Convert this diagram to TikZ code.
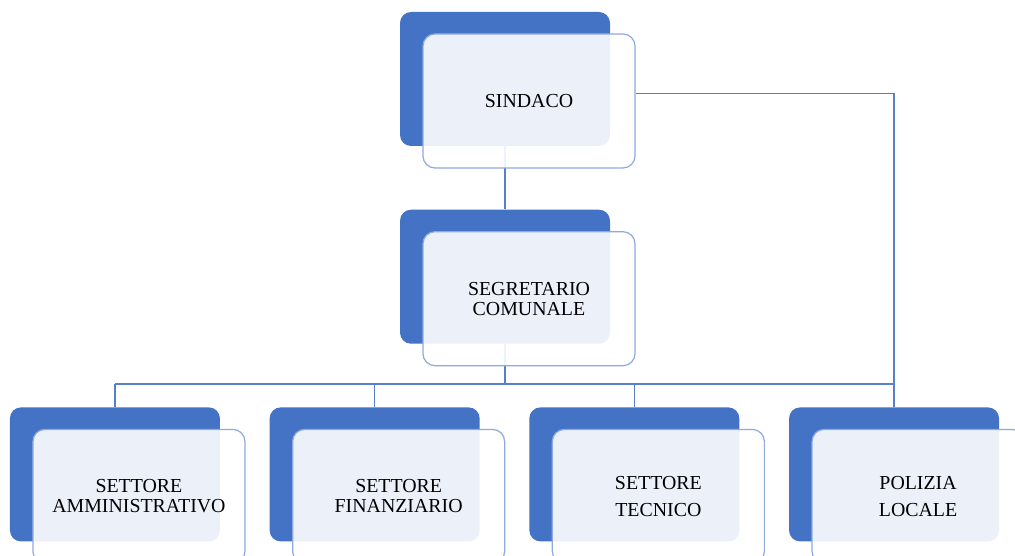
\documentclass[tikz,border=0pt]{standalone}
\usepackage{fontspec}
\setmainfont{Liberation Serif}
\usetikzlibrary{positioning,backgrounds}
\definecolor{boxblue}{HTML}{4472C4}
\definecolor{edgeblue}{HTML}{8FAADC}

\begin{document}
\begin{tikzpicture}[
node distance = 12.6mm and 9.8mm,
back/.style  = {fill=boxblue, rounded corners=2.2mm, inner sep=0pt,
                minimum width=42mm, minimum height=26.8mm},
front/.style = {draw=edgeblue, line width=0.7pt, fill=white, fill opacity=0.9,
                text opacity=1, rounded corners=2.4mm, inner sep=0pt,
                minimum width=42.4mm, minimum height=26.8mm,
                xshift=4.8mm, yshift=-4.4mm, align=center,
                font=\fontsize{11.3}{11.4}\selectfont},
link/.style  = {draw=boxblue!90, line width=0.65pt}
                        ]
\path[use as bounding box, clip] (0,0) rectangle (20.3,-11.12);
%
\node (sind) [back] at (10.1,-1.58) {};
\node (segr) [back, below = of sind] {};
\node (tec)  [back, below right = 12.6mm and 4.8mm of segr.south] {};
\node (fin)  [back, below left = 12.6mm and 5mm of segr.south] {};
\node (amm)  [back, left = of fin] {};
\node (pol)  [back, right = of tec] {};
%
\foreach \n/\t in {sind/SINDACO, segr/{SEGRETARIO\\COMUNALE},
                   amm/{SETTORE\\AMMINISTRATIVO}, fin/{SETTORE\\FINANZIARIO},
                   tec/{SETTORE\\[4pt]TECNICO}, pol/{POLIZIA\\[4pt]LOCALE}}
    \node (\n-f) [front] at (\n) {\t};
%
\begin{scope}[on background layer]
\coordinate[below = 8mm of segr.south] (bus);
\draw[link] (sind.south) -- (segr.north);
\draw[link] (sind-f.4) -| (pol.north);
\draw[link] (segr.south) -- (bus);
\draw[link] (bus -| amm.north) -- (bus -| pol.north);
\foreach \n in {amm,fin,tec,pol}
    \draw[link] (bus -| \n.north) -- (\n.north);
\end{scope}
\end{tikzpicture}
\end{document}
